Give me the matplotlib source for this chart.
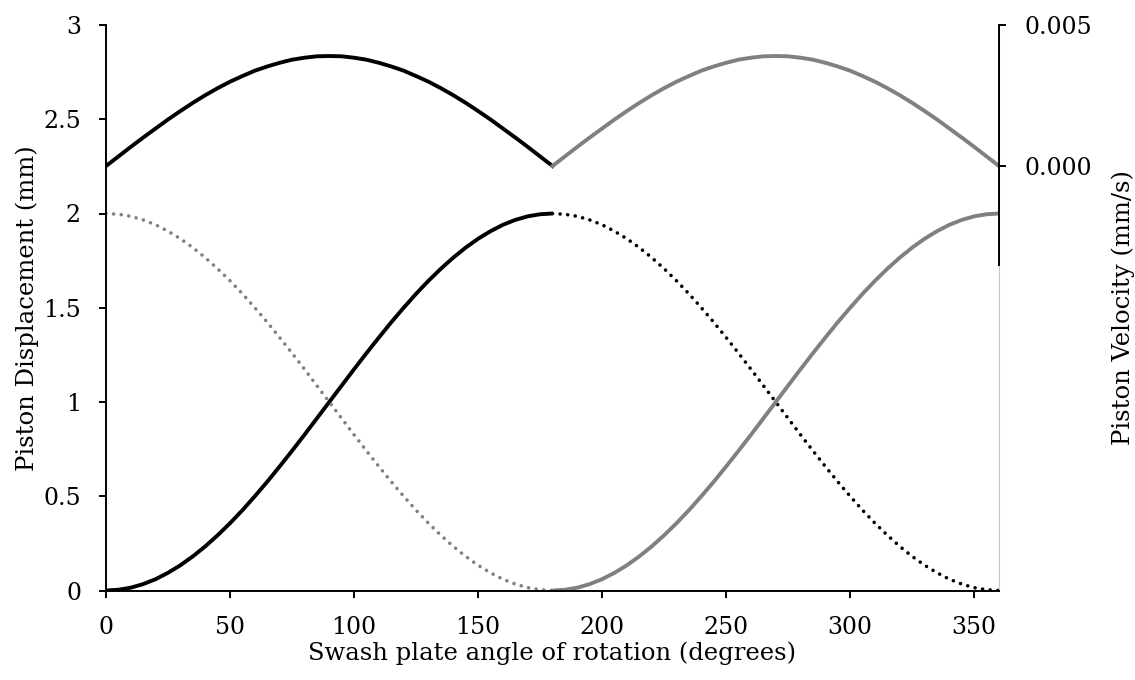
import numpy as np
import matplotlib.pyplot as plt

plt.rcParams['font.family'] = ['DejaVu Serif']

# swash plate angle (degrees), one half-turn each
angle_first = [0, 5, 10, 15, 20, 25, 30, 35, 40, 45, 50, 55, 60, 65, 70, 75, 80, 85, 90,
               95, 100, 105, 110, 115, 120, 125, 130, 135, 140, 145, 150, 155, 160, 165, 170, 175, 180]
angle_second = [180, 185, 190, 195, 200, 205, 210, 215, 220, 225, 230, 235, 240, 245, 250, 255, 260, 265, 270,
                275, 280, 285, 290, 295, 300, 305, 310, 315, 320, 325, 330, 335, 340, 345, 350, 355, 360]

# piston displacement (mm)
disp_rise = [0.000, 0.004, 0.015, 0.034, 0.060, 0.094, 0.134, 0.181, 0.234, 0.293,
             0.357, 0.426, 0.500, 0.577, 0.658, 0.741, 0.826, 0.913, 1.000,
             1.087, 1.174, 1.259, 1.342, 1.423, 1.500, 1.574, 1.643, 1.707,
             1.766, 1.819, 1.866, 1.906, 1.940, 1.966, 1.985, 1.996, 2.000]
disp_fall = [2.000, 1.996, 1.985, 1.966, 1.940, 1.906, 1.866, 1.819, 1.766, 1.707,
             1.643, 1.574, 1.500, 1.423, 1.342, 1.259, 1.174, 1.087, 1.000,
             0.913, 0.826, 0.741, 0.658, 0.577, 0.500, 0.426, 0.357, 0.293,
             0.234, 0.181, 0.134, 0.094, 0.060, 0.034, 0.015, 0.004, 0.000]

# piston velocity (mm/s)
vel_half = [0.00000, 0.00034, 0.00068, 0.00101, 0.00133, 0.00165, 0.00195, 0.00224, 0.00251, 0.00276,
            0.00299, 0.00319, 0.00338, 0.00353, 0.00366, 0.00377, 0.00384, 0.00389, 0.00390,
            0.00389, 0.00384, 0.00377, 0.00366, 0.00353, 0.00338, 0.00319, 0.00299,
            0.00276, 0.00251, 0.00224, 0.00195, 0.00165, 0.00133, 0.00101, 0.00068, 0.00034, 0.00000]

black = '#000000'
grey = '#808080'
dots = (0, (0.01, 2.1))

fig = plt.figure(figsize=(11.35, 6.8), dpi=100)
ax = fig.add_axes([106 / 1135, 1 - 590.5 / 680, 893 / 1135, 565.5 / 680])
ax2 = ax.twinx()

ax.plot(angle_first, disp_rise, color=black, lw=2.8, solid_capstyle='butt')
ax.plot(angle_second, disp_fall, color=black, lw=2.6, ls=dots, dash_capstyle='round')
ax.plot(angle_first, disp_fall, color=grey, lw=2.6, ls=dots, dash_capstyle='round')
ax.plot(angle_second, disp_rise, color=grey, lw=2.8, solid_capstyle='butt')

ax2.plot(angle_first, vel_half, color=black, lw=2.8, solid_joinstyle='round')
ax2.plot(angle_second, vel_half, color=grey, lw=2.8, solid_joinstyle='round')

ax.set_xlim(0, 360)
ax.set_ylim(0, 3)
ax.set_xticks([0, 50, 100, 150, 200, 250, 300, 350])
ax.set_yticks([0, 0.5, 1, 1.5, 2, 2.5, 3])
ax.set_yticklabels(['0', '0.5', '1', '1.5', '2', '2.5', '3'])

ax2.set_ylim(-0.01505, 0.005)
ax2.set_yticks([0, 0.005])
ax2.set_yticklabels(['0.000', '0.005'])

ax.spines['top'].set_visible(False)
ax2.spines['top'].set_visible(False)
ax2.spines['left'].set_visible(False)
ax2.spines['bottom'].set_visible(False)
ax.spines['right'].set_color('#c8c8c8')
ax.spines['right'].set_linewidth(0.8)
for s in ['left', 'bottom']:
    ax.spines[s].set_linewidth(1.4)
ax2.spines['right'].set_linewidth(1.4)
ax2.spines['right'].set_bounds(-0.0035, 0.005)

ax.tick_params(axis='both', direction='out', length=5, width=1.4, labelsize=17)
ax.tick_params(axis='y', pad=13)
ax.tick_params(axis='x', pad=13)
ax2.tick_params(axis='y', direction='out', length=5, width=1.4, labelsize=17, pad=13)

ax.set_xlabel('Swash plate angle of rotation (degrees)', fontsize=17.5, labelpad=2)
ax.set_ylabel('Piston Displacement (mm)', fontsize=17.5, labelpad=3)
ax2.set_ylabel('Piston Velocity (mm/s)', fontsize=17.5, labelpad=14)

fig.savefig('out.png', dpi=100)
